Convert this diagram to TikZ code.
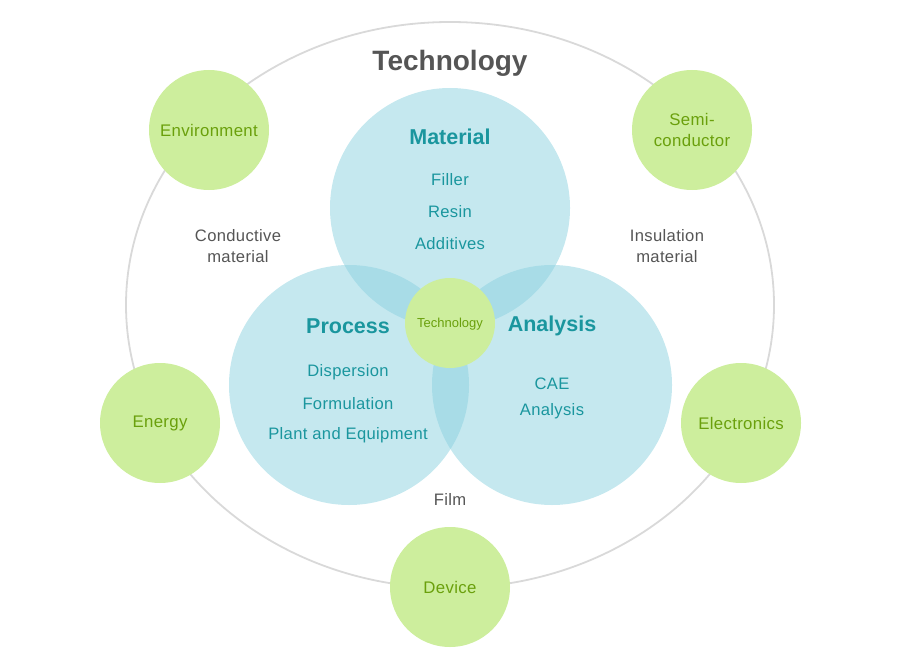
\documentclass[tikz,border=0pt]{standalone}
\usepackage{fontspec}
\usetikzlibrary{shapes.geometric}
\setmainfont{Liberation Sans}
\newfontfamily\spacedfont[LetterSpace=2]{Liberation Sans}
\definecolor{blueA}{RGB}{139,209,223}
\definecolor{greenC}{RGB}{205,238,157}
\definecolor{greenT}{RGB}{106,160,12}
\definecolor{tealT}{RGB}{26,150,158}
\definecolor{greyT}{RGB}{85,85,85}
\definecolor{lineG}{RGB}{217,217,217}
\begin{document}
\begin{tikzpicture}[x=1pt,y=-1pt,
  bluecirc/.style={circle,fill=blueA,fill opacity=0.5,minimum size=240pt,inner sep=0pt},
  greencirc/.style={circle,fill=greenC,minimum size=120pt,inner sep=0pt,text=greenT,font=\spacedfont\fontsize{16.8}{21}\selectfont,align=center},
  head/.style={text=tealT,font=\fontsize{21.5}{25}\selectfont\bfseries,yshift=-1pt},
  item/.style={text=tealT,font=\spacedfont\fontsize{16.6}{19}\selectfont,yshift=-1.5pt},
  glabel/.style={text=greyT,font=\spacedfont\fontsize{16.6}{21}\selectfont,align=center,yshift=-1pt}]
\useasboundingbox (0,0) rectangle (901,671);
\node[draw=lineG,line width=1.8pt,ellipse,minimum width=648pt,minimum height=566pt,inner sep=0pt] (outer) at (450,305) {};
\node[bluecirc] (mat) at (450,208) {};
\node[bluecirc] (proc) at (349,385) {};
\node[bluecirc] (ana) at (552,385) {};
\node[circle,fill=greenC,minimum size=90pt,inner sep=0pt] (tech) at (450,323) {};
\node[text=greenT,font=\fontsize{13}{15}\selectfont,yshift=-1.5pt] (techl) at (450,323) {Technology};
\node[text=greyT,font=\fontsize{28}{32}\selectfont\bfseries,yshift=-1.5pt] (title) at (450,62) {Technology};
\node[head] (mh) at (450,136) {Material};
\node[item] (m1) at (450,178) {Filler};
\node[item] (m2) at (450,210) {Resin};
\node[item] (m3) at (450,242) {Additives};
\node[head] (ph) at (348,325) {Process};
\node[item] (p1) at (348,371) {Dispersion};
\node[item] (p2) at (348,402) {Formulation};
\node[item] (p3) at (348,434) {Plant and Equipment};
\node[head] (ah) at (552,325) {Analysis};
\node[item] (a1) at (552,382) {CAE};
\node[item] (a2) at (552,410) {Analysis};
\node[glabel] (cond) at (238,245) {Conductive\\material};
\node[glabel] (ins) at (667,245) {Insulation\\material};
\node[glabel] (film) at (450,498) {Film};
\node[greencirc] (env) at (209,130) {Environment};
\node[greencirc] (semi) at (692,130) {Semi-\\conductor};
\node[greencirc] (ene) at (160,423) {Energy};
\node[greencirc] (ele) at (741,423) {Electronics};
\node[greencirc] (dev) at (450,587) {Device};
\end{tikzpicture}
\end{document}
